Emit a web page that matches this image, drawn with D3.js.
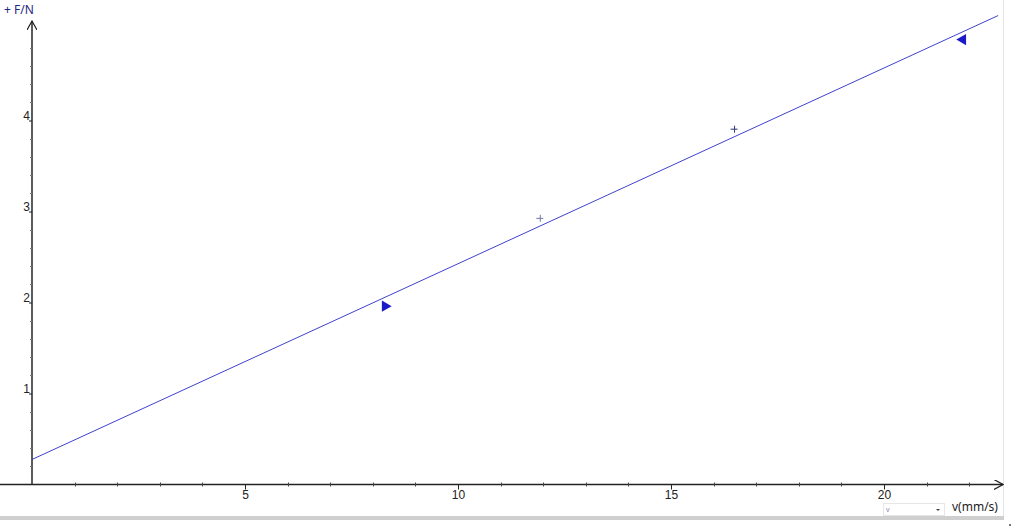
<!DOCTYPE html>
<html>
<head>
<meta charset="utf-8">
<script src="https://cdn.jsdelivr.net/npm/d3@7"></script>
<style>
  html, body { margin: 0; padding: 0; background: #fff; }
  svg { display: block; font-family: "Noto Sans", "DejaVu Sans", sans-serif; }
</style>
</head>
<body>
<div id="chart"></div>
<script>
// measured points (v in mm/s, F in N)
const vValues = [8.29, 11.92, 16.48, 21.85];
const fValues = [1.96, 2.93, 3.91, 4.89];
const markerKinds = ["triRight", "plus", "plus", "triLeft"];

// fitted line F = a + b*v
const fitIntercept = 0.275;
const fitSlope = 0.2151;
const fitRange = [0, 22.68];

const xMajor = [5, 10, 15, 20];
const yMajor = [1, 2, 3, 4];

const width = 1012, height = 528;
const blue = "#2b2bc8";

const svg = d3.select("#chart").append("svg")
    .attr("width", width)
    .attr("height", height);

const xScale = d3.scaleLinear().domain([0, 20]).range([32, 884]);
const yScale = d3.scaleLinear().domain([0, 4]).range([484.5, 120.5]);

const defs = svg.append("defs");
defs.append("marker")
    .attr("id", "arrow")
    .attr("viewBox", "0 0 10 10")
    .attr("refX", 9).attr("refY", 5)
    .attr("markerWidth", 10).attr("markerHeight", 10)
    .attr("markerUnits", "userSpaceOnUse")
    .attr("orient", "auto")
    .append("path")
    .attr("d", "M0,0 L9,5 L0,10")
    .attr("fill", "none")
    .attr("stroke", "#222")
    .attr("stroke-width", 1.2);

// frame lines on the right / bottom
svg.append("line").attr("x1", 1003.5).attr("x2", 1003.5).attr("y1", 0).attr("y2", 517)
    .attr("stroke", "#e4e4e4");
svg.append("rect").attr("x", 0).attr("y", 516).attr("width", 1004).attr("height", 4)
    .attr("fill", "#cfcfcf");
svg.append("rect").attr("x", 1009).attr("y", 524).attr("width", 2).attr("height", 2)
    .attr("fill", "#777");

// x axis
const xAxisY = yScale(0);
svg.append("line")
    .attr("x1", 0).attr("x2", 1003)
    .attr("y1", xAxisY).attr("y2", xAxisY)
    .attr("stroke", "#222").attr("stroke-width", 1.3)
    .attr("marker-end", "url(#arrow)");

const xMinor = d3.range(1, 23).filter(d => !xMajor.includes(d));
svg.append("g").selectAll("line").data(xMinor).join("line")
    .attr("x1", d => Math.round(xScale(d)) + 0.5).attr("x2", d => Math.round(xScale(d)) + 0.5)
    .attr("y1", xAxisY - 2).attr("y2", xAxisY + 2)
    .attr("stroke", "#444");

const xAxis = d3.axisBottom(xScale).tickValues(xMajor).tickSize(5).tickSizeOuter(0);
const gx = svg.append("g")
    .attr("transform", `translate(0,${xAxisY})`)
    .call(xAxis);
gx.select(".domain").remove();
gx.selectAll(".tick line").attr("stroke", "#222");
gx.selectAll(".tick text").attr("fill", "#222").attr("font-size", 12).attr("dy", "0.5em");

// y axis
const yAxisX = xScale(0);
svg.append("line")
    .attr("x1", yAxisX).attr("x2", yAxisX)
    .attr("y1", xAxisY).attr("y2", 21)
    .attr("stroke", "#333").attr("stroke-width", 1.6)
    .attr("marker-end", "url(#arrow)");

const yMinor = d3.range(1, 25).map(d => d * 0.2).filter(d => Math.abs(d - Math.round(d)) > 0.01);
svg.append("g").selectAll("line").data(yMinor).join("line")
    .attr("x1", yAxisX - 2).attr("x2", yAxisX)
    .attr("y1", d => Math.round(yScale(d)) + 0.5).attr("y2", d => Math.round(yScale(d)) + 0.5)
    .attr("stroke", "#777");

const yAxis = d3.axisLeft(yScale).tickValues(yMajor).tickFormat(d3.format("d"))
    .tickSize(3).tickSizeOuter(0);
const gy = svg.append("g")
    .attr("transform", `translate(${yAxisX},0)`)
    .call(yAxis);
gy.select(".domain").remove();
gy.selectAll(".tick line").attr("stroke", "#222");
gy.selectAll(".tick text").attr("fill", "#222").attr("font-size", 12)
    .attr("x", -2).attr("dy", "-0.05em");

// fitted line
svg.append("line")
    .attr("x1", xScale(fitRange[0])).attr("y1", yScale(fitIntercept + fitSlope * fitRange[0]))
    .attr("x2", xScale(fitRange[1])).attr("y2", yScale(fitIntercept + fitSlope * fitRange[1]))
    .attr("stroke", blue).attr("stroke-width", 0.9);

// data markers
const points = vValues.map((v, i) => ({ v, f: fValues[i], kind: markerKinds[i] }));
const tri = d3.symbol().type(d3.symbolTriangle).size(55);
const marks = svg.append("g").selectAll("g").data(points).join("g")
    .attr("transform", d => `translate(${xScale(d.v)},${yScale(d.f)})`);

marks.filter(d => d.kind !== "plus").append("path")
    .attr("d", tri)
    .attr("transform", d => `rotate(${d.kind === "triRight" ? 90 : -90})`)
    .attr("fill", "#1a1ac8");

marks.filter(d => d.kind === "plus").append("path")
    .attr("d", "M-3.5,0.5 H3.5 M0.5,-3 V4")
    .attr("stroke", (d, i) => i === 0 ? "#7777aa" : "#33337a")
    .attr("stroke-width", 1)
    .attr("fill", "none");

// y label
svg.append("text")
    .attr("x", 4).attr("y", 14)
    .attr("fill", "#1e2a80").attr("font-size", 12)
    .text("+ F/N");

// x label with selector box
svg.append("rect").attr("x", 883.5).attr("y", 503.5).attr("width", 61).attr("height", 12)
    .attr("fill", "#fff").attr("stroke", "#e6e6e6");
svg.append("text").attr("x", 886).attr("y", 512)
    .attr("font-size", 7).attr("fill", "#8888aa").text("v");
svg.append("path").attr("d", "M936,509 h4 l-2,2 z").attr("fill", "#444");
svg.append("text")
    .attr("x", 952).attr("y", 511)
    .attr("fill", "#222").attr("font-size", 12)
    .text("v(mm/s)");
</script>
</body>
</html>
